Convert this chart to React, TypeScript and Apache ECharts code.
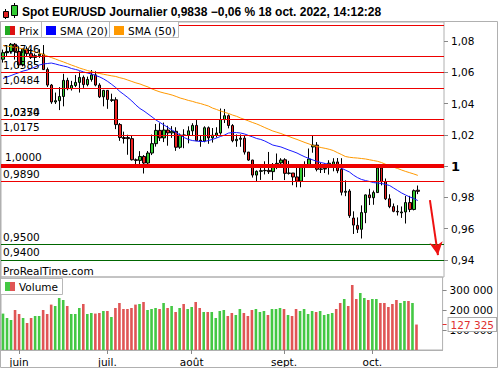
import React, { useEffect, useRef } from "react";
import * as echarts from "echarts";

// ---------- data ----------
const dates = [
  "05-26","05-27","05-30","05-31",
  "06-01","06-02","06-03","06-06","06-07","06-08","06-09","06-10","06-13","06-14","06-15","06-16","06-17","06-20","06-21","06-22","06-23","06-24","06-27","06-28","06-29","06-30",
  "07-01","07-04","07-05","07-06","07-07","07-08","07-11","07-12","07-13","07-14","07-15","07-18","07-19","07-20","07-21","07-22","07-25","07-26","07-27","07-28","07-29",
  "08-01","08-02","08-03","08-04","08-05","08-08","08-09","08-10","08-11","08-12","08-15","08-16","08-17","08-18","08-19","08-22","08-23","08-24","08-25","08-26","08-29","08-30","08-31",
  "09-01","09-02","09-05","09-06","09-07","09-08","09-09","09-12","09-13","09-14","09-15","09-16","09-19","09-20","09-21","09-22","09-23","09-26","09-27","09-28","09-29","09-30",
  "10-03","10-04","10-05","10-06","10-07","10-10","10-11","10-12","10-13","10-14","10-17","10-18"
];
const emptySlots = ["e1","e2","e3","e4","e5","e6"];

const opens = [
  1.0683,1.0725,1.0733,1.0779,1.0733,1.0647,1.0749,1.0719,1.0695,1.0706,
  1.0716,1.0617,1.0518,1.0410,1.0418,1.0445,1.0548,1.0495,1.0515,1.0535,
  1.0567,1.0521,1.0554,1.0583,1.0518,1.0443,1.0484,1.0420,1.0424,1.0265,
  1.0182,1.0182,1.0175,1.0040,1.0036,1.0061,1.0019,1.0083,1.0143,1.0228,
  1.0180,1.0230,1.0212,1.0222,1.0120,1.0198,1.0197,1.0225,1.0260,1.0165,
  1.0160,1.0245,1.0180,1.0197,1.0211,1.0297,1.0322,1.0259,1.0162,1.0171,
  1.0178,1.0089,1.0038,0.9942,0.9966,0.9970,0.9972,0.9964,1.0004,1.0020,
  1.0040,0.9953,0.9955,0.9930,0.9903,1.0000,1.0004,1.0122,1.0134,0.9979,
  0.9981,1.0000,1.0010,1.0026,0.9979,0.9832,0.9840,0.9667,0.9620,0.9595,
  0.9702,0.9815,0.9797,0.9830,0.9987,0.9900,0.9790,0.9740,0.9710,0.9700,
  0.9706,0.9766,0.9722,0.9845
];
const closes = [
  1.0725,1.0733,1.0779,1.0733,1.0647,1.0749,1.0719,1.0695,1.0706,1.0716,
  1.0617,1.0518,1.0410,1.0418,1.0445,1.0548,1.0495,1.0515,1.0535,1.0567,
  1.0521,1.0554,1.0583,1.0518,1.0443,1.0484,1.0426,1.0424,1.0265,1.0182,
  1.0176,1.0175,1.0040,1.0036,1.0061,1.0019,1.0083,1.0143,1.0228,1.0180,
  1.0230,1.0212,1.0222,1.0120,1.0198,1.0197,1.0225,1.0260,1.0162,1.0160,
  1.0245,1.0180,1.0197,1.0211,1.0297,1.0322,1.0259,1.0162,1.0171,1.0178,
  1.0089,1.0038,0.9942,0.9966,0.9970,0.9972,0.9964,1.0004,1.0017,1.0038,
  0.9953,0.9955,0.9930,0.9903,1.0002,1.0004,1.0045,1.0134,0.9979,0.9981,
  0.9985,1.0018,1.0026,0.9970,0.9832,0.9838,0.9682,0.9622,0.9595,0.9702,
  0.9815,0.9797,0.9830,0.9987,0.9900,0.9790,0.9740,0.9710,0.9706,0.9706,
  0.9766,0.9722,0.9842,0.9838
];
const lows = [
  1.0662,1.0700,1.0720,1.0681,1.0627,1.0637,1.0700,1.0685,1.0653,1.0692,
  1.0615,1.0506,1.0398,1.0397,1.0358,1.0382,1.0485,1.0483,1.0505,1.0470,
  1.0500,1.0510,1.0540,1.0510,1.0435,1.0382,1.0366,1.0410,1.0236,1.0161,
  1.0144,1.0072,1.0035,0.9999,0.9998,0.9952,1.0005,1.0070,1.0124,1.0160,
  1.0153,1.0130,1.0180,1.0097,1.0110,1.0114,1.0145,1.0192,1.0160,1.0123,
  1.0152,1.0142,1.0150,1.0182,1.0200,1.0275,1.0241,1.0152,1.0123,1.0123,
  1.0073,1.0033,0.9926,0.9901,0.9911,0.9946,0.9949,0.9910,0.9980,1.0000,
  0.9910,0.9945,0.9877,0.9864,0.9864,0.9930,0.9990,1.0085,0.9966,0.9955,
  0.9955,0.9945,0.9966,0.9954,0.9812,0.9807,0.9668,0.9565,0.9571,0.9536,
  0.9634,0.9750,0.9752,0.9828,0.9876,0.9782,0.9730,0.9704,0.9683,0.9668,
  0.9632,0.9705,0.9716,0.9820
];
const highs = [
  1.0745,1.0765,1.0787,1.0787,1.0765,1.0752,1.0765,1.0749,1.0720,1.0748,
  1.0774,1.0630,1.0525,1.0470,1.0505,1.0590,1.0565,1.0545,1.0582,1.0605,
  1.0579,1.0572,1.0614,1.0606,1.0530,1.0487,1.0485,1.0463,1.0440,1.0275,
  1.0220,1.0200,1.0195,1.0048,1.0095,1.0070,1.0096,1.0201,1.0269,1.0274,
  1.0278,1.0258,1.0255,1.0248,1.0208,1.0235,1.0254,1.0274,1.0294,1.0195,
  1.0254,1.0253,1.0243,1.0248,1.0368,1.0365,1.0330,1.0268,1.0202,1.0202,
  1.0195,1.0090,1.0040,0.9972,0.9999,1.0030,1.0090,1.0019,1.0080,1.0050,
  1.0050,1.0033,0.9955,0.9990,1.0012,1.0030,1.0112,1.0198,1.0153,1.0020,
  1.0017,1.0037,1.0050,1.0051,1.0050,0.9908,0.9852,0.9710,0.9671,0.9748,
  0.9818,0.9854,0.9843,0.9999,0.9999,0.9920,0.9819,0.9760,0.9749,0.9741,
  0.9808,0.9809,0.9850,0.9875
];
const volumes = [
  182000,160000,150000,200000,180000,160000,135000,160000,170000,170000,
  200000,180000,227000,220000,260000,250000,220000,180000,180000,210000,
  230000,180000,185000,182000,185000,195000,195000,165000,210000,235000,
  205000,205000,210000,227000,230000,240000,200000,205000,210000,205000,
  235000,210000,220000,190000,210000,230000,205000,215000,240000,210000,
  190000,190000,190000,160000,195000,200000,170000,185000,175000,205000,
  185000,170000,200000,205000,190000,195000,175000,205000,205000,210000,
  205000,175000,170000,205000,195000,205000,180000,195000,190000,195000,
  175000,180000,185000,205000,235000,255000,220000,325000,255000,285000,
  260000,250000,255000,255000,235000,235000,215000,230000,250000,235000,
  245000,245000,235000,127325
];
const sma20 = [
  1.0560,1.0570,1.0579,1.0589,1.0598,1.0608,1.0614,1.0624,1.0634,1.0646,
  1.0653,1.0656,1.0659,1.0653,1.0646,1.0640,1.0634,1.0624,1.0618,1.0611,
  1.0602,1.0595,1.0589,1.0579,1.0570,1.0557,1.0541,1.0522,1.0502,1.0477,
  1.0458,1.0438,1.0416,1.0390,1.0368,1.0352,1.0333,1.0314,1.0294,1.0278,
  1.0262,1.0246,1.0230,1.0214,1.0198,1.0182,1.0170,1.0163,1.0160,1.0157,
  1.0157,1.0163,1.0170,1.0179,1.0189,1.0198,1.0211,1.0214,1.0214,1.0211,
  1.0205,1.0195,1.0186,1.0176,1.0170,1.0160,1.0147,1.0134,1.0128,1.0122,
  1.0112,1.0102,1.0093,1.0083,1.0070,1.0058,1.0048,1.0038,1.0029,1.0022,
  1.0016,1.0010,1.0000,0.9994,0.9987,0.9974,0.9962,0.9942,0.9926,0.9914,
  0.9907,0.9901,0.9894,0.9891,0.9888,0.9882,0.9875,0.9859,0.9843,0.9827,
  0.9814,0.9802,0.9792,0.9779
];
const sma50 = [
  1.0771,1.0768,1.0763,1.0759,1.0755,1.0749,1.0742,1.0736,1.0730,1.0723,
  1.0714,1.0704,1.0694,1.0685,1.0675,1.0666,1.0656,1.0646,1.0637,1.0627,
  1.0619,1.0611,1.0604,1.0597,1.0592,1.0587,1.0582,1.0577,1.0573,1.0565,
  1.0559,1.0550,1.0541,1.0532,1.0525,1.0515,1.0506,1.0493,1.0483,1.0474,
  1.0467,1.0461,1.0454,1.0445,1.0435,1.0428,1.0420,1.0414,1.0406,1.0400,
  1.0392,1.0384,1.0371,1.0362,1.0352,1.0344,1.0336,1.0326,1.0318,1.0307,
  1.0298,1.0288,1.0278,1.0269,1.0258,1.0246,1.0235,1.0224,1.0216,1.0208,
  1.0198,1.0189,1.0179,1.0170,1.0160,1.0150,1.0141,1.0131,1.0125,1.0118,
  1.0113,1.0107,1.0099,1.0086,1.0074,1.0061,1.0056,1.0053,1.0051,1.0048,
  1.0045,1.0040,1.0035,1.0030,1.0022,1.0011,1.0000,0.9992,0.9984,0.9974,
  0.9965,0.9957,0.9949,0.9940
];
const redLevels = [1.0858, 1.0746, 1.0585, 1.0484, 1.0350, 1.0274, 1.0175, 1.0000, 0.9890];
const greenLevels = [0.9500, 0.9400];
const priceTicks = [0.94, 0.96, 0.98, 1.0, 1.02, 1.04, 1.06, 1.08];
const volumeTicks = [100000, 200000, 300000];
const monthNames: Record<string, string> = { "06": "juin", "07": "juil.", "08": "août", "09": "sept.", "10": "oct." };
const arrowStart = [106, 0.9782];
const arrowEnd = [107.75, 0.9430];
const TITLE = "Spot EUR/USD Journalier 0,9838 \u22120,06 % 18 oct. 2022, 14:12:28";

// ---------- styling ----------
const FONT = "DejaVu Sans";
const UP = "#33cc33";
const DOWN = "#ee2222";
const VUP = "#44c844";
const VDOWN = "#e05555";
const FRAME = "#b0b0b0";
const PMIN = 0.92896;
const PMAX = 1.09216;
const VMAX = 365000;

const slots = dates.concat(emptySlots);
const lastVolume = volumes[volumes.length - 1];

const isMonthStart = (index: number) =>
  index > 0 && index < dates.length && dates[index].slice(0, 2) !== dates[index - 1].slice(0, 2);

const fmtLevel = (v: number) => v.toFixed(4).replace(".", ",");
const fmtPrice = (v: number) => (Math.abs(v - 1) < 1e-9 ? "{b|1}" : v.toFixed(2).replace(".", ","));
const fmtVol = (v: number) => String(Math.round(v)).replace(/\B(?=(\d{3})+(?!\d))/g, " ");

function buildOption() {
  const candles = dates.map((_, i) => [opens[i], closes[i], lows[i], highs[i]]);
  const volData = volumes.map((v, i) => ({
    value: v,
    itemStyle: { color: closes[i] >= opens[i] ? VUP : VDOWN },
  }));

  const levelLines: any[] = [];
  redLevels.forEach((v, i) => {
    levelLines.push({
      yAxis: v,
      lineStyle: { color: "#ee0000", width: v === 1 ? 4 : 1, type: "solid" },
      label: {
        show: i > 0,
        position: "insideStartTop",
        formatter: fmtLevel(v),
        color: "#000",
        fontSize: 10.5,
        fontFamily: FONT,
        distance: v === 1 ? 4 : 2,
      },
    });
  });
  greenLevels.forEach((v) => {
    levelLines.push({
      yAxis: v,
      lineStyle: { color: "#006600", width: 1, type: "solid" },
      label: {
        show: true,
        position: "insideStartTop",
        formatter: fmtLevel(v),
        color: "#000",
        fontSize: 10.5,
        fontFamily: FONT,
        distance: 2,
      },
    });
  });
  levelLines.push([
    { coord: arrowStart, symbol: "none" },
    { coord: arrowEnd, symbol: "arrow", symbolSize: [10, 13] },
  ]);
  // arrow line style
  levelLines[levelLines.length - 1][0].lineStyle = { color: "#ee1111", width: 2, type: "solid" };
  levelLines[levelLines.length - 1][0].label = { show: false };

  const txt = (text: string, x: number, y: number, extra: any = {}) => ({
    type: "text",
    x,
    y,
    z: 120,
    style: { text, fill: "#000", font: `10.5px "${FONT}"`, verticalAlign: "middle", ...extra },
  });
  const box = (x: number, y: number, w: number, h: number) => ({
    type: "rect",
    z: 110,
    shape: { x, y, width: w, height: h },
    style: { fill: "#fff", stroke: "#b8b8b8", lineWidth: 1 },
  });
  const sq = (x: number, y: number, w: number, h: number, fill: string) => ({
    type: "rect",
    z: 115,
    shape: { x, y, width: w, height: h },
    style: { fill, stroke: null },
  });

  const graphic = [
    { type: "rect", z: 130, shape: { x: 0.5, y: 21.5, width: 497, height: 346 }, style: { fill: "none", stroke: FRAME, lineWidth: 1 } },
    // title icon
    { type: "line", z: 120, shape: { x1: 5.5, y1: 9, x2: 5.5, y2: 19 }, style: { stroke: "#000", lineWidth: 1 } },
    { type: "rect", z: 121, shape: { x: 3.5, y: 11.5, width: 5, height: 6 }, style: { fill: "#e02020", stroke: "#000", lineWidth: 1 } },
    { type: "line", z: 120, shape: { x1: 14.5, y1: 3, x2: 14.5, y2: 18 }, style: { stroke: "#000", lineWidth: 1 } },
    { type: "rect", z: 121, shape: { x: 11.5, y: 5.5, width: 6, height: 10 }, style: { fill: "#33cc33", stroke: "#000", lineWidth: 1 } },
    txt(TITLE, 22, 12, { font: 'bold 12px "Liberation Sans"' }),
    // price legend
    box(0.5, 21.5, 41, 16),
    box(41.5, 21.5, 68, 16),
    box(109.5, 21.5, 69, 16),
    sq(5, 26, 5, 9, "#22aa22"),
    sq(10, 26, 5, 9, "#dd1111"),
    sq(46, 26, 10, 9, "#0000ff"),
    sq(114, 26, 10, 9, "#ff9900"),
    txt("Prix", 19, 30.5),
    txt("SMA (20)", 60, 30.5),
    txt("SMA (50)", 128, 30.5),
    txt("ProRealTime.com", 3, 270.5),
    // volume legend
    box(0.5, 278.5, 62, 16),
    sq(5, 282, 5, 9, VUP),
    sq(10, 282, 5, 9, VDOWN),
    txt("Volume", 19, 286.5),
  ];

  return {
    animation: false,
    textStyle: { fontFamily: FONT },
    graphic,
    grid: [
      { left: 1, top: 22, width: 443, height: 255, show: true, borderColor: FRAME, borderWidth: 1, backgroundColor: "transparent" },
      { left: 1, top: 277, width: 443, height: 73, show: true, borderColor: FRAME, borderWidth: 1, backgroundColor: "transparent" },
    ],
    xAxis: [
      {
        type: "category", gridIndex: 0, data: slots, boundaryGap: true,
        axisLine: { show: false }, axisTick: { show: false }, axisLabel: { show: false }, splitLine: { show: false },
      },
      {
        type: "category", gridIndex: 1, data: slots, boundaryGap: true,
        axisLine: { show: true, lineStyle: { color: FRAME } },
        axisTick: { show: true, alignWithLabel: true, interval: (i: number) => isMonthStart(i), length: 4, lineStyle: { color: "#888" } },
        axisLabel: {
          interval: (i: number) => isMonthStart(i),
          formatter: (v: string) => monthNames[v.slice(0, 2)] || "",
          color: "#000", fontSize: 10.5, fontFamily: FONT, margin: 6,
        },
        splitLine: { show: false },
      },
    ],
    yAxis: [
      {
        type: "value", gridIndex: 0, position: "right", min: PMIN, max: PMAX,
        splitLine: { show: false }, axisLine: { show: false },
        axisTick: { show: true, customValues: priceTicks, length: 4, lineStyle: { color: "#888" } },
        axisLabel: {
          customValues: priceTicks, margin: 7, color: "#000", fontSize: 10.5, fontFamily: FONT,
          formatter: fmtPrice,
          rich: { b: { fontWeight: "bold", fontSize: 13, color: "#000", fontFamily: FONT } },
        },
      },
      {
        type: "value", gridIndex: 1, position: "right", min: 0, max: VMAX,
        splitLine: { show: false }, axisLine: { show: false },
        axisTick: { show: true, customValues: volumeTicks, length: 4, lineStyle: { color: "#888" } },
        axisLabel: { customValues: volumeTicks, margin: 7, color: "#000", fontSize: 10.5, fontFamily: FONT, formatter: fmtVol },
      },
      {
        type: "value", gridIndex: 1, position: "right", min: 0, max: VMAX,
        splitLine: { show: false }, axisLine: { show: false },
        axisTick: { show: true, customValues: [lastVolume], length: 4, lineStyle: { color: "#e03030" } },
        axisLabel: {
          customValues: [lastVolume], margin: 6, color: "#e03030", fontSize: 10.5, fontFamily: FONT,
          formatter: fmtVol, backgroundColor: "#fff", borderColor: "#aaa", borderWidth: 1, padding: [1, 2, 1, 2],
        },
        z: 5,
      },
    ],
    series: [
      {
        type: "candlestick", xAxisIndex: 0, yAxisIndex: 0, data: candles, barWidth: 3,
        itemStyle: { color: UP, color0: DOWN, borderColor: "#000", borderColor0: "#000", borderWidth: 1 },
        markLine: { silent: true, symbol: ["none", "none"], animation: false, data: levelLines },
        z: 2,
      },
      {
        type: "line", name: "SMA (20)", xAxisIndex: 0, yAxisIndex: 0, data: sma20, symbol: "none",
        lineStyle: { color: "#1a1aff", width: 1 }, z: 3,
      },
      {
        type: "line", name: "SMA (50)", xAxisIndex: 0, yAxisIndex: 0, data: sma50, symbol: "none",
        lineStyle: { color: "#ff9900", width: 1 }, z: 3,
      },
      {
        type: "bar", xAxisIndex: 1, yAxisIndex: 1, data: volData, barWidth: 2.6,
      },
    ],
  };
}

export default function App() {
  const ref = useRef<HTMLDivElement>(null);
  useEffect(() => {
    document.body.style.margin = "0";
    const chart = echarts.init(ref.current!, null, { renderer: "svg" });
    chart.setOption(buildOption() as any);
    return () => chart.dispose();
  }, []);
  return <div ref={ref} style={{ width: 500, height: 370, background: "#fff" }} />;
}
